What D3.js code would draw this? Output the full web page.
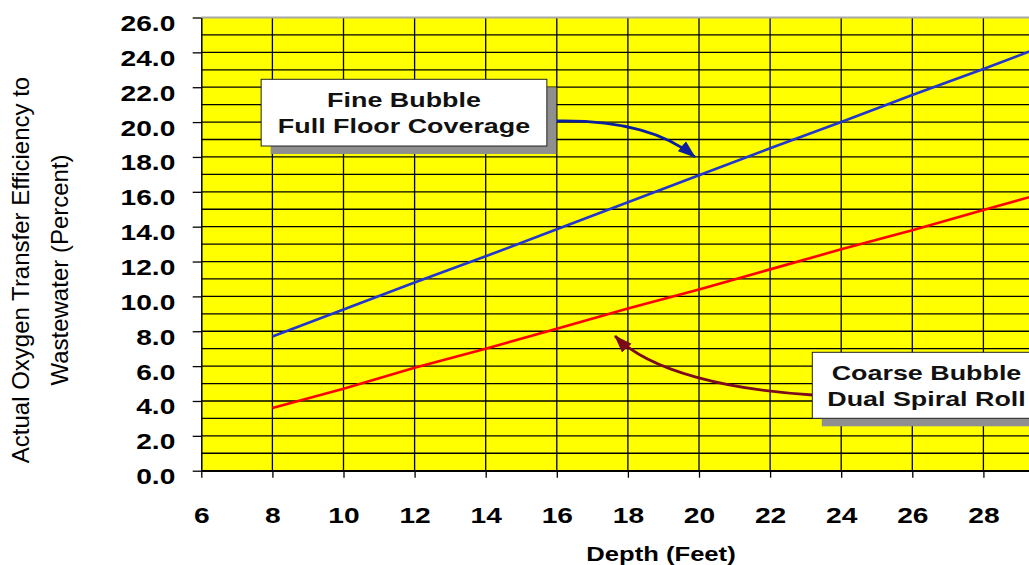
<!DOCTYPE html>
<html>
<head>
<meta charset="utf-8">
<script src="https://cdn.jsdelivr.net/npm/d3@7"></script>
<style>
  html, body { margin: 0; padding: 0; background: #fff; overflow: hidden; }
  svg { display: block; font-family: "Liberation Sans", Arial, sans-serif; }
</style>
</head>
<body>
<svg id="chart" width="1029" height="565"></svg>
<script>
// Aeration efficiency vs. tank depth
const depth = [8, 10, 12, 14, 16, 18, 20, 22, 24, 26, 28, 30];
const fineBubble = [7.7, 9.25, 10.8, 12.3, 13.85, 15.4, 16.95, 18.5, 20.0, 21.55, 23.05, 24.6];
const coarseBubble = [3.6, 4.7, 5.9, 7.0, 8.15, 9.3, 10.4, 11.55, 12.7, 13.8, 14.95, 16.1];
const xTicks = [6, 8, 10, 12, 14, 16, 18, 20, 22, 24, 26, 28];
const xGrid = [8, 10, 12, 14, 16, 18, 20, 22, 24, 26, 28, 30];
const yTicks = [0, 2, 4, 6, 8, 10, 12, 14, 16, 18, 20, 22, 24, 26];
const yGrid = d3.range(0, 26, 1);

const svg = d3.select("#chart");
const STRETCH = 1.28; // horizontal text stretch used throughout

const x = d3.scaleLinear().domain([6, 30]).range([201.3, 1054.5]);
const y = d3.scaleLinear().domain([0, 26]).range([470.7, 17.5]);

// plot background
svg.append("rect")
  .attr("x", x(6)).attr("y", y(26))
  .attr("width", x(30) - x(6)).attr("height", y(0) - y(26))
  .attr("fill", "#ffff00");

// horizontal grid (every 1 %)
svg.append("g").selectAll("line").data(yGrid).join("line")
  .attr("x1", x(6)).attr("x2", x(30))
  .attr("y1", d => y(d)).attr("y2", d => y(d))
  .attr("stroke", "#000").attr("stroke-width", 1.3);

// vertical grid (every 2 ft)
svg.append("g").selectAll("line").data(xGrid).join("line")
  .attr("x1", d => x(d)).attr("x2", d => x(d))
  .attr("y1", y(0)).attr("y2", y(26))
  .attr("stroke", "#000").attr("stroke-width", 1.3);

// top border
svg.append("line")
  .attr("x1", x(6)).attr("x2", x(30))
  .attr("y1", y(26)).attr("y2", y(26))
  .attr("stroke", "#a8a8a8").attr("stroke-width", 2);

// y axis
const yAxis = svg.append("g")
  .attr("transform", `translate(${x(6)},0)`)
  .call(d3.axisLeft(y).tickValues(yTicks).tickFormat(d3.format(".1f")).tickSize(8.6).tickSizeOuter(0));
yAxis.select(".domain").attr("stroke", "#000").attr("stroke-width", 1.5);
yAxis.selectAll(".tick line").attr("stroke", "#000").attr("stroke-width", 1.3);
yAxis.selectAll(".tick text")
  .attr("x", -26 / STRETCH).attr("dy", null).attr("y", 13)
  .attr("transform", `scale(${STRETCH},1)`)
  .attr("fill", "#000").attr("font-size", 22).attr("font-weight", "bold")
  .attr("font-family", "Liberation Sans, Arial, sans-serif");

// x axis
const xAxis = svg.append("g")
  .attr("transform", `translate(0,${y(0)})`)
  .call(d3.axisBottom(x).tickValues(xTicks).tickFormat(d3.format("d")).tickSize(7).tickSizeOuter(0));
xAxis.select(".domain").attr("stroke", "#000").attr("stroke-width", 1.5);
xAxis.selectAll(".tick line").attr("stroke", "#000").attr("stroke-width", 1.3);
xAxis.selectAll(".tick text")
  .attr("y", 52).attr("dy", null)
  .attr("transform", `scale(${STRETCH},1)`)
  .attr("fill", "#000").attr("font-size", 22).attr("font-weight", "bold")
  .attr("font-family", "Liberation Sans, Arial, sans-serif");

// axis titles
svg.append("text")
  .attr("transform", `translate(661,561) scale(${STRETCH},1)`)
  .attr("text-anchor", "middle").attr("font-size", 20).attr("font-weight", "bold")
  .text("Depth (Feet)");

const yTitle = svg.append("g").attr("transform", "translate(0,270)");
yTitle.append("text")
  .attr("transform", "translate(29,0) rotate(-90)")
  .attr("text-anchor", "middle").attr("font-size", 24)
  .text("Actual Oxygen Transfer Efficiency to");
yTitle.append("text")
  .attr("transform", "translate(68,0) rotate(-90)")
  .attr("text-anchor", "middle").attr("font-size", 24)
  .text("Wastewater (Percent)");

// data lines
const line = d3.line().x((d, i) => x(depth[i])).y(d => y(d));
svg.append("path").datum(fineBubble)
  .attr("d", line).attr("fill", "none")
  .attr("stroke", "#2236cc").attr("stroke-width", 2.6);
svg.append("path").datum(coarseBubble)
  .attr("d", line).attr("fill", "none")
  .attr("stroke", "#ff0000").attr("stroke-width", 2.6);

// arrowheads
const defs = svg.append("defs");
[["headBlue", "#0b1f9c"], ["headRed", "#7a0a1c"]].forEach(([id, c]) => {
  defs.append("marker")
    .attr("id", id).attr("markerUnits", "userSpaceOnUse")
    .attr("viewBox", "0 -7 18 14").attr("refX", 17).attr("refY", 0)
    .attr("markerWidth", 18).attr("markerHeight", 14).attr("orient", "auto")
    .append("path").attr("d", "M0,-6.5L18,0L0,6.5Z").attr("fill", c);
});

// callout boxes
function callout(cx, top, w, h, lines) {
  const g = svg.append("g");
  g.append("rect")
    .attr("x", cx - w / 2 + 9.5).attr("y", top + 8)
    .attr("width", w).attr("height", h).attr("fill", "#8f8f8f");
  g.append("rect")
    .attr("x", cx - w / 2).attr("y", top)
    .attr("width", w).attr("height", h)
    .attr("fill", "#fff").attr("stroke", "#222").attr("stroke-width", 1);
  lines.forEach((t, i) => {
    g.append("text")
      .attr("transform", `translate(${cx},${top + 27.5 + i * 26.5}) scale(${STRETCH},1)`)
      .attr("text-anchor", "middle").attr("font-size", 21).attr("font-weight", "bold")
      .attr("fill", "#111").text(t);
  });
}

// fine bubble callout and arrow
svg.append("path")
  .attr("d", "M556,121 C612,120 662,130 695,157")
  .attr("fill", "none").attr("stroke", "#0b1f9c").attr("stroke-width", 2.8)
  .attr("marker-end", "url(#headBlue)");
callout(404, 79.3, 285.7, 66.7, ["Fine Bubble", "Full Floor Coverage"]);

// coarse bubble callout and arrow
svg.append("path")
  .attr("d", "M813,395 C730,390 650,372 615,336")
  .attr("fill", "none").attr("stroke", "#7a0a1c").attr("stroke-width", 2.8)
  .attr("marker-end", "url(#headRed)");
callout(926.5, 352.3, 228.4, 66, ["Coarse Bubble", "Dual Spiral Roll"]);
</script>
</body>
</html>
